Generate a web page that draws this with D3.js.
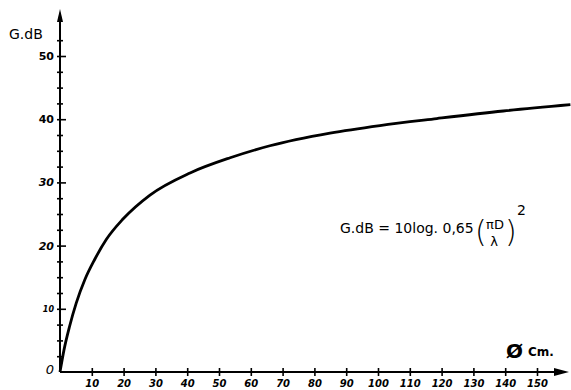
<!DOCTYPE html>
<html>
<head>
<meta charset="utf-8">
<script src="https://cdn.jsdelivr.net/npm/d3@7"></script>
<style>
body{margin:0;background:#fff;}
svg{display:block;}
text{font-family:"DejaVu Sans",sans-serif;fill:#000;}
</style>
</head>
<body>
<svg id="svg" width="571" height="390"></svg>
<script>
// diameter in cm, gain in dB
var diam=[0,1.26,3.0,5.1,7.8,10.9,14.6,19.8,28.3,40.9,53.5,66,84.9,100.6,118.5,139.4,160.5];
var gain=[0,3.5,7.2,10.9,14.6,17.8,21,24.2,28.0,31.5,33.9,35.8,37.8,39.0,40.1,41.3,42.3];
var xTicks=[10,20,30,40,50,60,70,80,90,100,110,120,130,140,150];
var yMajor=[10,20,30,40,50];

var svg=d3.select('#svg');

var xScale=d3.scaleLinear().domain([0,150]).range([60,537]);
var yScale=d3.scaleLinear().domain([0,50]).range([372,56]);

// x axis
var xAxis=svg.append('g')
    .attr('transform','translate(0,'+yScale(0)+')')
    .call(d3.axisBottom(xScale).tickValues(xTicks).tickSize(0).tickPadding(8));
xAxis.select('.domain').remove();
xAxis.append('line')
    .attr('x1',xScale(0)).attr('x2',558)
    .attr('stroke','#000').attr('stroke-width',2);
xAxis.append('path')
    .attr('d','M554,-4L569,0L554,4Z')
    .attr('fill','#000');
xAxis.selectAll('.tick line').remove();
xAxis.selectAll('.tick').append('line')
    .attr('y1',-4).attr('y2',4)
    .attr('stroke','#000').attr('stroke-width',1.6);
xAxis.selectAll('.tick text')
    .attr('font-size',10).attr('font-style','italic').attr('font-weight','bold')
    .attr('fill','#000').attr('font-family','"DejaVu Sans",sans-serif');

// y axis
var yAxis=svg.append('g')
    .attr('transform','translate('+xScale(0)+',0)')
    .call(d3.axisLeft(yScale).tickValues(d3.range(2.5,53,2.5))
        .tickSize(0).tickPadding(6)
        .tickFormat(function(d){return yMajor.indexOf(d)>=0?d:'';}));
yAxis.select('.domain').remove();
yAxis.append('line')
    .attr('y1',yScale(0)).attr('y2',18)
    .attr('stroke','#000').attr('stroke-width',2);
yAxis.append('path')
    .attr('d','M-3,22L0,9L3,22Z')
    .attr('fill','#000');
yAxis.selectAll('.tick line').remove();
yAxis.selectAll('.tick').append('line')
    .attr('x1',-3).attr('x2',function(d){return yMajor.indexOf(d)>=0?6:3;})
    .attr('stroke','#000').attr('stroke-width',1.6);
yAxis.selectAll('.tick text')
    .attr('font-size',function(d){return d==10?8:11;})
    .attr('font-weight','bold')
    .attr('font-style',function(d){return d<40?'italic':'normal';})
    .attr('fill','#000').attr('font-family','"DejaVu Sans",sans-serif');

svg.append('text')
    .attr('x',50).attr('y',yScale(0)+2)
    .attr('text-anchor','middle')
    .attr('font-size',13).attr('font-style','italic')
    .text('0');

// axis titles
svg.append('text')
    .attr('x',9).attr('y',39)
    .attr('font-size',14)
    .text('G.dB');
svg.append('text')
    .attr('x',506).attr('y',358)
    .attr('font-size',20).attr('font-weight','bold')
    .text('Ø');
svg.append('text')
    .attr('x',528).attr('y',356)
    .attr('font-size',12).attr('font-weight','bold')
    .text('Cm.');

// curve
var pts=diam.map(function(d,i){return [d,gain[i]];});
var line=d3.line()
    .x(function(d){return xScale(d[0]);})
    .y(function(d){return yScale(d[1]);})
    .curve(d3.curveMonotoneX);
svg.append('path')
    .datum(pts)
    .attr('d',line)
    .attr('fill','none')
    .attr('stroke','#000')
    .attr('stroke-width',2.8);

// formula
var f=svg.append('g');
f.append('text').attr('x',340).attr('y',233).attr('font-size',14)
    .text('G.dB = 10log. 0,65');
f.append('text').attr('x',475).attr('y',242).attr('font-size',30)
    .attr('font-weight','200').text('(');
f.append('text').attr('x',495).attr('y',229).attr('font-size',13)
    .attr('text-anchor','middle').text('πD');
f.append('text').attr('x',494).attr('y',246).attr('font-size',13)
    .attr('text-anchor','middle').text('λ');
f.append('text').attr('x',505).attr('y',242).attr('font-size',30)
    .attr('font-weight','200').text(')');
f.append('text').attr('x',517).attr('y',215).attr('font-size',14)
    .text('2');
</script>
</body>
</html>
